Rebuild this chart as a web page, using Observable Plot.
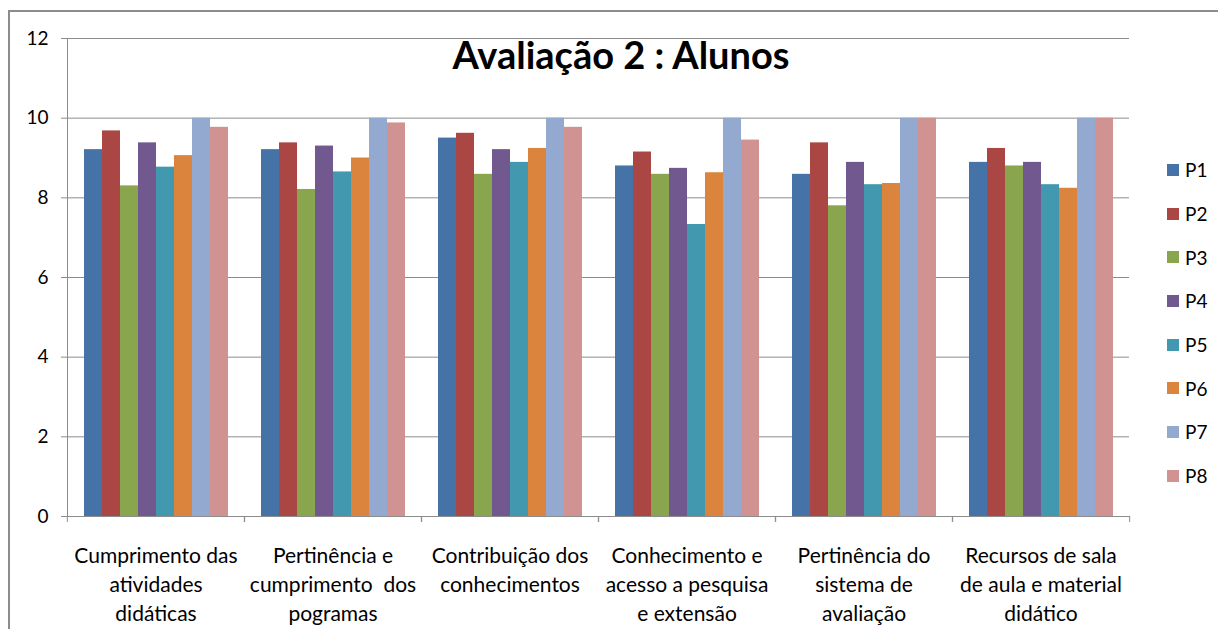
<!DOCTYPE html>
<html>
<head>
<meta charset="utf-8">
<script src="https://cdn.jsdelivr.net/npm/d3@7"></script>
<script src="https://cdn.jsdelivr.net/npm/@observablehq/plot@0.6"></script>
<style>
  html, body { margin: 0; padding: 0; background: #fff; }
  #wrap { position: relative; width: 1218px; height: 629px; overflow: hidden; font-family: Lato, "DejaVu Sans", sans-serif; }
  #border { position: absolute; left: 8px; top: 10px; width: 1240px; height: 660px; border: 2px solid #8c8c8c; box-sizing: border-box; }
  #title { position: absolute; left: 0; width: 1242px; top: 35px; text-align: center; font-weight: bold; font-size: 38px; line-height: 38px; color: #000; }
  #legend { position: absolute; left: 1167px; top: 148px; }
  .item { display: flex; align-items: center; height: 43.7px; font-size: 19px; color: #000; }
  .sw { width: 12px; height: 12px; margin-right: 6px; }
  #chart { position: absolute; left: 0; top: 0; }
</style>
</head>
<body>
<div id="wrap">
  <div id="border"></div>
  <div id="chart"></div>
  <div id="title">Avaliação 2 : Alunos</div>
  <div id="legend"></div>
</div>
<script>
const categories = [
  "Cumprimento das atividades didáticas",
  "Pertinência e cumprimento dos pogramas",
  "Contribuição dos conhecimentos",
  "Conhecimento e acesso a pesquisa e extensão",
  "Pertinência do sistema de avaliação",
  "Recursos de sala de aula e material didático"
];
const tickLabels = [
  "Cumprimento das\natividades\ndidáticas",
  "Pertinência e\ncumprimento  dos\npogramas",
  "Contribuição dos\nconhecimentos",
  "Conhecimento e\nacesso a pesquisa\ne extensão",
  "Pertinência do\nsistema de\navaliação",
  "Recursos de sala\nde aula e material\ndidático"
];
const series = ["P1", "P2", "P3", "P4", "P5", "P6", "P7", "P8"];
const P1 = [9.21, 9.21, 9.50, 8.80, 8.59, 8.89];
const P2 = [9.68, 9.38, 9.62, 9.15, 9.38, 9.24];
const P3 = [8.30, 8.21, 8.59, 8.59, 7.80, 8.80];
const P4 = [9.38, 9.30, 9.21, 8.74, 8.89, 8.89];
const P5 = [8.77, 8.65, 8.89, 7.33, 8.33, 8.33];
const P6 = [9.06, 9.00, 9.24, 8.63, 8.36, 8.24];
const P7 = [10.0, 10.0, 10.0, 10.0, 10.0, 10.0];
const P8 = [9.77, 9.88, 9.77, 9.45, 10.0, 10.0];
const yTicks = [0, 2, 4, 6, 8, 10, 12];
const colors = ["#4572A7", "#AA4643", "#89A54E", "#71588F", "#4198AF", "#DB843D", "#93A9CF", "#D19392"];

const seriesValues = [P1, P2, P3, P4, P5, P6, P7, P8];
const data = [];
categories.forEach((c, i) => {
  series.forEach((s, j) => data.push({category: c, series: s, value: seriesValues[j][i]}));
});

const W = 1218, H = 629, mL = 66, mR = 88, mT = 38, mB = 113;
const halfFacet = (W - mL - mR) / categories.length / 2;
const axisGray = "#8c8c8c";

const chart = Plot.plot({
  width: W, height: H,
  marginLeft: mL, marginRight: mR, marginTop: mT, marginBottom: mB,
  style: {fontFamily: "Lato, 'DejaVu Sans', sans-serif", fontSize: "19px", background: "transparent", color: "#000"},
  fx: {domain: categories, padding: 0, label: null, axis: null},
  x: {domain: series, paddingInner: 0, paddingOuter: 0.75, axis: null},
  y: {domain: [0, 12], axis: null},
  color: {domain: series, range: colors},
  marks: [
    Plot.gridY(yTicks, {stroke: axisGray, strokeOpacity: 1, strokeWidth: 1}),
    Plot.barY(data, {fx: "category", x: "series", y: "value", fill: "series"}),
    Plot.frame({anchor: "left", facet: "super", stroke: axisGray}),
    Plot.frame({anchor: "bottom", facet: "super", stroke: axisGray}),
    Plot.axisY(yTicks, {tickSize: 6, tickPadding: 13, fontSize: 19, stroke: axisGray, fill: "#000", label: null}),
    Plot.axisFx({anchor: "bottom", tickSize: 0, tickPadding: 26, fontSize: 21, lineHeight: 1.38, fill: "#000", label: null,
      tickFormat: d => tickLabels[categories.indexOf(d)]}),
    Plot.axisFx({anchor: "bottom", tickSize: 6, text: null, dx: -halfFacet, stroke: axisGray, label: null}),
    Plot.axisFx({anchor: "bottom", tickSize: 6, text: null, dx: halfFacet, stroke: axisGray, label: null})
  ]
});
document.getElementById("chart").appendChild(chart);

const legend = document.getElementById("legend");
series.forEach((s, i) => {
  const item = document.createElement("div");
  item.className = "item";
  const sw = document.createElement("div");
  sw.className = "sw";
  sw.style.background = colors[i];
  const t = document.createElement("span");
  t.textContent = s;
  item.appendChild(sw);
  item.appendChild(t);
  legend.appendChild(item);
});
</script>
</body>
</html>
